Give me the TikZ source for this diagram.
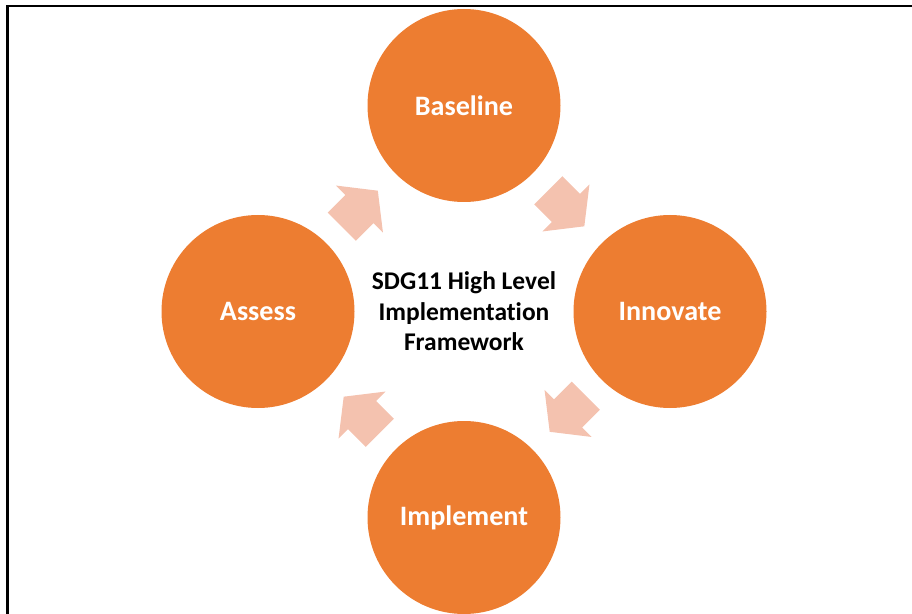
\documentclass[tikz,border=0pt]{standalone}
\usepackage{fontspec}
\setmainfont{Carlito}[Ligatures=CommonOff]
\usetikzlibrary{shapes.arrows, positioning}
\definecolor{stageorange}{HTML}{ED7D31}
\definecolor{arrowpeach}{HTML}{F4C2AF}

\begin{document}
\begin{tikzpicture}[
    node distance=4.12cm,
    on grid,
    stage/.style={
        circle,
        fill=stageorange,
        minimum size=3.86cm,
        inner sep=0pt,
        text=white,
        font=\fontsize{16}{19}\selectfont\bfseries
    },
    hub/.style={
        align=center,
        font=\fontsize{14.5}{17.3}\selectfont\bfseries
    },
    flow/.style={
        single arrow,
        fill=arrowpeach,
        minimum height=1.02cm,
        inner xsep=0pt,
        inner ysep=0.39cm,
        single arrow head extend=0.27cm,
        single arrow tip angle=104
    }
]
\useasboundingbox (0,0) rectangle (18.24,12.26);

% Frame
\draw [line width=1.3pt] (0.15,-0.3) -- (0.15,12.14) -- (18.6,12.14);

% Nodes
\node [hub] (hub) at (9.28,6.03) {SDG11 High Level\\Implementation\\Framework};
\node [stage, above=of hub] (baseline) {Baseline};
\node [stage, right=of hub] (innovate) {Innovate};
\node [stage, below=of hub] (implement) {Implement};
\node [stage, left=of hub] (assess) {Assess};

% Arrows round the cycle, placed by their tails
\node [flow, rotate=-45, above right=2.43cm and 1.68cm of hub, anchor=tail] (toinnovate) {};
\node [flow, rotate=-135, below right=1.68cm and 2.44cm of hub, anchor=tail] (toimplement) {};
\node [flow, rotate=135, below left=2.43cm and 1.68cm of hub, anchor=tail] (toassess) {};
\node [flow, rotate=45, above left=1.69cm and 2.45cm of hub, anchor=tail] (tobaseline) {};

\end{tikzpicture}
\end{document}
